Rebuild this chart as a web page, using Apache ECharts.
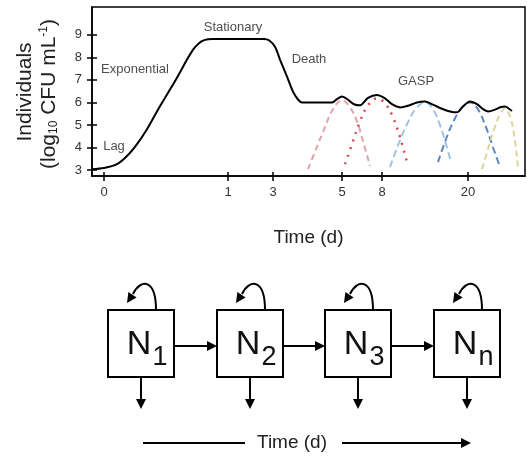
<!DOCTYPE html>
<html>
<head>
<meta charset="utf-8">
<script src="https://cdn.jsdelivr.net/npm/echarts@6/dist/echarts.min.js"></script>
<style>
    html, body { margin: 0; padding: 0; background: #fff; }
    #chart { width: 527px; height: 460px; }
</style>
</head>
<body>
<div id="chart"></div>
<script>
// time axis is not linear: position along the axis for each labelled day
var tickPos = [12, 136, 181, 250, 290, 376];
var tickLabels = ['0', '1', '3', '5', '8', '20'];
var yTicks = [3, 4, 5, 6, 7, 8, 9];

// [axis position, log10 CFU/mL]
var growth = [
    [0, 3.04], [12, 3.09], [25, 3.26], [35, 3.62], [45, 4.15], [55, 4.81],
    [65, 5.6], [75, 6.35], [85, 7.1], [95, 7.9], [99, 8.2], [103, 8.45],
    [107, 8.63], [111, 8.74], [116, 8.8], [121, 8.82], [150, 8.82],
    [172, 8.82], [177, 8.76], [183, 8.47],
    [188, 7.9], [195, 7.15], [201, 6.48], [206, 6.13], [210, 6.0],
    [240, 6.0], [245, 6.15], [250, 6.26], [256, 6.12], [262, 5.92],
    [268, 5.87], [276, 6.2], [285, 6.33], [293, 6.18], [300, 5.92],
    [308, 5.78], [316, 5.85], [325, 6.0], [333, 6.04], [341, 5.9],
    [350, 5.72], [358, 5.6], [365, 5.56], [371, 5.82], [378, 6.04],
    [385, 5.92], [391, 5.7], [396, 5.6], [403, 5.68], [409, 5.8],
    [413, 5.82], [417, 5.72], [420, 5.62]
];
var gasp1 = [[216, 3.04], [224, 3.93], [233, 4.9], [241, 5.7], [250, 6.09], [258, 5.78], [265, 5.16], [271, 4.28], [278, 3.18]];
var gasp2 = [[253, 3.26], [260, 4.15], [268, 5.16], [276, 5.87], [285, 6.18], [293, 5.96], [301, 5.34], [308, 4.46], [315, 3.35]];
var gasp3 = [[298, 3.13], [306, 4.1], [315, 5.03], [324, 5.73], [333, 6.0], [341, 5.69], [348, 4.99], [354, 4.15], [359, 3.35]];
var gasp4 = [[346, 3.35], [354, 4.37], [362, 5.21], [370, 5.78], [378, 6.0], [386, 5.69], [394, 4.9], [401, 4.01], [408, 3.13]];
var gasp5 = [[390, 3.04], [396, 3.93], [402, 4.81], [408, 5.47], [413, 5.73], [418, 5.38], [422, 4.59], [426, 3.13]];

var phases = [
    {name: 'Lag', value: [22, 4.06]},
    {name: 'Exponential', value: [43, 7.46]},
    {name: 'Stationary', value: [141, 9.35]},
    {name: 'Death', value: [217, 7.9]},
    {name: 'GASP', value: [324, 6.93]}
];

var subscripts = ['1', '2', '3', 'n'];

var chart = echarts.init(document.getElementById('chart'));

function humpSeries(data, color, dash, width) {
    return {
        type: 'line',
        data: data,
        smooth: 0.4,
        showSymbol: false,
        silent: true,
        lineStyle: {color: color, width: width, type: dash}
    };
}

// compartment diagram below the chart
var graphics = [];
function arrowHead(tip, dx, dy) {
    var len = 10, half = 5;
    var bx = tip[0] - dx * len, by = tip[1] - dy * len;
    return {
        type: 'polygon',
        shape: {points: [tip, [bx - dy * half, by + dx * half], [bx + dy * half, by - dx * half]]},
        style: {fill: '#000'}
    };
}
function line(x1, y1, x2, y2) {
    return {type: 'line', shape: {x1: x1, y1: y1, x2: x2, y2: y2}, style: {stroke: '#000', lineWidth: 2}};
}
var boxTop = 310, boxSize = 67;
subscripts.forEach(function (s, i) {
    var bx = Math.round(108 + i * 108.7);
    graphics.push({
        type: 'rect',
        shape: {x: bx, y: boxTop, width: boxSize - 1, height: boxSize},
        style: {fill: '#fff', stroke: '#000', lineWidth: 2}
    });
    graphics.push({
        type: 'text', x: bx + 31, y: boxTop + 35,
        style: {text: 'N', fontSize: 34, fill: '#111', align: 'center', verticalAlign: 'middle'}
    });
    graphics.push({
        type: 'text', x: bx + 52, y: boxTop + 48,
        style: {text: s, fontSize: 27, fill: '#111', align: 'center', verticalAlign: 'middle'}
    });
    // self loop
    graphics.push({
        type: 'bezierCurve',
        shape: {x1: bx + 48, y1: boxTop, cpx1: bx + 48, cpy1: boxTop - 31, cpx2: bx + 33, cpy2: boxTop - 32, x2: bx + 25, y2: boxTop - 16},
        style: {stroke: '#000', lineWidth: 2, fill: null}
    });
    graphics.push(arrowHead([bx + 19, boxTop - 7], -0.55, 0.83));
    // outflow
    graphics.push(line(bx + 33, boxTop + boxSize, bx + 33, boxTop + boxSize + 23));
    graphics.push(arrowHead([bx + 33, boxTop + boxSize + 32], 0, 1));
    // transfer to next box
    if (i < subscripts.length - 1) {
        var nx = Math.round(108 + (i + 1) * 108.7);
        graphics.push(line(bx + boxSize - 1, 346, nx - 8, 346));
        graphics.push(arrowHead([nx, 346], 1, 0));
    }
});
graphics.push(line(143, 443, 245, 443));
graphics.push(line(342, 443, 462, 443));
graphics.push(arrowHead([471, 443], 1, 0));
graphics.push({
    type: 'text', x: 292, y: 443,
    style: {text: 'Time (d)', fontSize: 19, fill: '#222', align: 'center', verticalAlign: 'middle'}
});
graphics.push({
    type: 'text', x: 25, y: 92, rotation: Math.PI / 2,
    style: {text: 'Individuals', fontSize: 21, fill: '#222', align: 'center', verticalAlign: 'middle'}
});
graphics.push({
    type: 'text', x: 49, y: 94, rotation: Math.PI / 2,
    style: {
        text: '(log{sub|10} CFU mL{sup|-1})',
        fontSize: 21, fill: '#222', align: 'center', verticalAlign: 'middle',
        rich: {
            sub: {fontSize: 12, fill: '#222', padding: [10, 0, 0, 0]},
            sup: {fontSize: 12, fill: '#222', padding: [0, 0, 10, 0]}
        }
    }
});

var tickStyle = {color: '#000', width: 1.5};

var option = {
    animation: false,
    textStyle: {fontFamily: 'Liberation Sans, Arial, sans-serif'},
    grid: {left: 92, right: 2, top: 7, bottom: 284, show: true, borderColor: '#000', borderWidth: 1.5},
    xAxis: [
        {
            type: 'value', min: 0, max: 433, position: 'bottom',
            axisLine: {show: true, lineStyle: tickStyle},
            axisTick: {show: true, customValues: tickPos, length: 5, lineStyle: tickStyle},
            axisLabel: {
                customValues: tickPos, color: '#333', fontSize: 13, margin: 10,
                formatter: function (v) { return tickLabels[tickPos.indexOf(v)]; }
            },
            splitLine: {show: false},
            name: 'Time (d)', nameLocation: 'middle', nameGap: 52,
            nameTextStyle: {fontSize: 19, color: '#222'}
        },
        {
            type: 'value', min: 0, max: 433, position: 'bottom',
            axisLine: {show: false},
            axisTick: {show: true, inside: true, customValues: tickPos, length: 4, lineStyle: tickStyle},
            axisLabel: {show: false},
            splitLine: {show: false}
        }
    ],
    yAxis: [
        {
            type: 'value', min: 2.735, max: 10.235,
            axisLine: {show: true, lineStyle: tickStyle},
            axisTick: {show: true, customValues: yTicks, length: 5, lineStyle: tickStyle},
            axisLabel: {customValues: yTicks, color: '#333', fontSize: 13, margin: 10},
            splitLine: {show: false}
        },
        {
            type: 'value', min: 2.735, max: 10.235, position: 'left',
            axisLine: {show: false},
            axisTick: {show: true, inside: true, customValues: yTicks, length: 5, lineStyle: tickStyle},
            axisLabel: {show: false},
            splitLine: {show: false}
        }
    ],
    series: [
        humpSeries(gasp1, '#e0a3ab', [6, 4], 2),
        humpSeries(gasp2, '#d8484c', [2, 6], 2.5),
        humpSeries(gasp3, '#9ec3e6', [7, 4], 2),
        humpSeries(gasp4, '#5b87c0', [7, 4], 2),
        humpSeries(gasp5, '#dcd59a', [6, 4], 2),
        {
            type: 'line',
            data: growth,
            smooth: 0.3,
            showSymbol: false,
            silent: true,
            lineStyle: {color: '#000', width: 2}
        },
        {
            type: 'scatter',
            data: phases,
            symbolSize: 0,
            silent: true,
            label: {
                show: true, position: 'inside', fontSize: 13, color: '#222',
                formatter: function (p) { return p.name; }
            }
        }
    ],
    graphic: graphics
};

chart.setOption(option);
</script>
</body>
</html>
